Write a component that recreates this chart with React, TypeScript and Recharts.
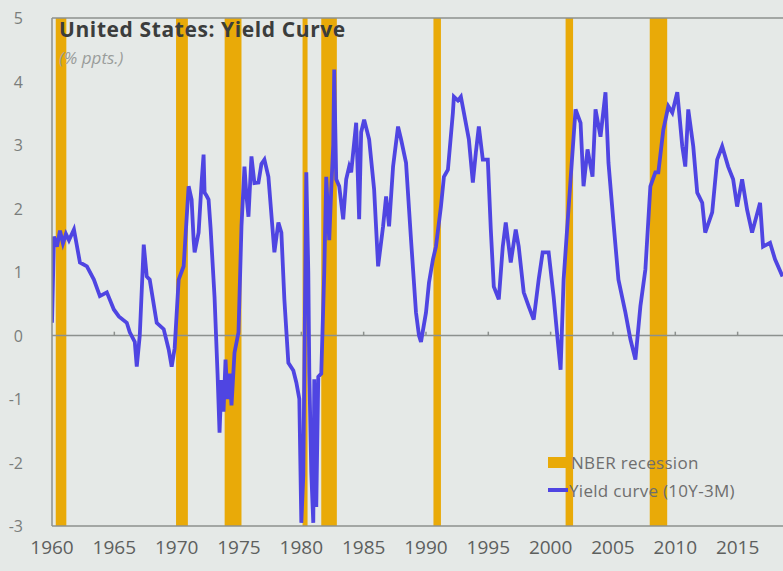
import React from "react";
import {
  ComposedChart,
  Line,
  XAxis,
  YAxis,
  ReferenceArea,
  ReferenceLine,
} from "recharts";

// NBER recessions (start, end in decimal years)
const recessionStarts = [1960.3, 1969.95, 1973.85, 1980.1, 1981.6, 1990.6, 2001.2, 2007.95];
const recessionEnds = [1961.15, 1970.9, 1975.2, 1980.5, 1982.85, 1991.2, 2001.8, 2009.35];

// yield curve 10Y-3M, % ppts
const years = [
  1960.0, 1960.16, 1960.4, 1960.64, 1960.88, 1961.12, 1961.36, 1961.76, 1962.24, 1962.8,
  1963.36, 1963.84, 1964.4, 1964.96, 1965.36, 1966.0, 1966.24, 1966.64, 1966.8, 1967.04,
  1967.36, 1967.6, 1967.84, 1968.4, 1968.96, 1969.36, 1969.6, 1969.84, 1970.16, 1970.56,
  1970.96, 1971.2, 1971.36, 1971.44, 1971.76, 1972.0, 1972.16, 1972.24, 1972.4, 1972.56,
  1972.72, 1973.04, 1973.28, 1973.44, 1973.6, 1973.76, 1973.92, 1974.08, 1974.24, 1974.4,
  1974.64, 1974.96, 1975.2, 1975.44, 1975.6, 1975.76, 1976.0, 1976.24, 1976.56, 1976.8,
  1977.04, 1977.36, 1977.84, 1978.16, 1978.4, 1978.64, 1978.96, 1979.36, 1979.6, 1979.84,
  1980.0, 1980.16, 1980.32, 1980.4, 1980.56, 1980.64, 1980.8, 1980.96, 1981.04, 1981.2,
  1981.36, 1981.6, 1981.84, 1982.0, 1982.24, 1982.4, 1982.56, 1982.64, 1982.8, 1983.04,
  1983.36, 1983.6, 1983.84, 1984.0, 1984.4, 1984.64, 1984.8, 1985.04, 1985.44, 1985.84,
  1986.16, 1986.56, 1986.8, 1987.04, 1987.36, 1987.76, 1988.0, 1988.4, 1988.8, 1989.2,
  1989.44, 1989.6, 1990.0, 1990.24, 1990.56, 1990.8, 1991.2, 1991.44, 1991.76, 1992.16,
  1992.24, 1992.56, 1992.8, 1993.04, 1993.44, 1993.76, 1994.0, 1994.24, 1994.56, 1994.96,
  1995.2, 1995.44, 1995.84, 1996.16, 1996.4, 1996.8, 1997.2, 1997.44, 1997.84, 1998.24,
  1998.64, 1999.04, 1999.36, 1999.84, 2000.24, 2000.56, 2000.8, 2001.04, 2001.36, 2001.6,
  2002.0, 2002.4, 2002.64, 2002.96, 2003.36, 2003.6, 2004.0, 2004.4, 2004.64, 2005.04,
  2005.44, 2006.0, 2006.4, 2006.8, 2007.2, 2007.6, 2008.0, 2008.4, 2008.64, 2009.04,
  2009.44, 2009.76, 2010.16, 2010.56, 2010.8, 2011.04, 2011.44, 2011.76, 2012.16, 2012.4,
  2012.96, 2013.36, 2013.76, 2014.24, 2014.64, 2014.96, 2015.36, 2015.76, 2016.16, 2016.8,
  2017.04, 2017.6, 2018.0, 2018.6,
];
const spread = [
  0.2, 1.56, 1.4, 1.65, 1.45, 1.6, 1.5, 1.67, 1.15, 1.09,
  0.88, 0.62, 0.68, 0.41, 0.3, 0.2, 0.05, -0.1, -0.49, 0.0,
  1.43, 0.93, 0.88, 0.2, 0.1, -0.22, -0.49, -0.2, 0.88, 1.09,
  2.35, 2.14, 1.51, 1.31, 1.62, 2.41, 2.85, 2.25, 2.2, 2.14,
  1.7, 0.6, -0.6, -1.53, -0.7, -1.2, -0.38, -1.0, -0.6, -1.1,
  -0.27, 0.05, 1.72, 2.66, 2.2, 1.87, 2.82, 2.4, 2.41, 2.7,
  2.77, 2.5, 1.31, 1.78, 1.62, 0.57, -0.43, -0.55, -0.74, -1.0,
  -2.95, -2.2, 1.0, 2.57, 0.99, -0.58, -2.16, -2.95, -0.69, -2.7,
  -0.65, -0.6, 1.0, 2.5, 1.5, 2.3, 3.0, 4.19, 2.46, 2.35,
  1.83, 2.46, 2.66, 2.57, 3.35, 1.83, 3.2, 3.4, 3.09, 2.3,
  1.09, 1.72, 2.19, 1.72, 2.66, 3.29, 3.09, 2.72, 1.51, 0.36,
  0.0, -0.1, 0.36, 0.83, 1.2, 1.4, 2.03, 2.5, 2.61, 3.51,
  3.76, 3.7, 3.76, 3.51, 3.09, 2.41, 2.88, 3.29, 2.77, 2.77,
  1.67, 0.77, 0.57, 1.4, 1.78, 1.15, 1.67, 1.4, 0.68, 0.46,
  0.25, 0.88, 1.31, 1.31, 0.61, -0.06, -0.54, 0.88, 1.78, 2.46,
  3.56, 3.35, 2.35, 2.93, 2.5, 3.56, 3.13, 3.83, 2.72, 1.78,
  0.88, 0.36, -0.06, -0.38, 0.46, 1.04, 2.35, 2.57, 2.57, 3.24,
  3.61, 3.51, 3.83, 2.98, 2.66, 3.56, 2.98, 2.25, 2.09, 1.62,
  1.94, 2.77, 2.98, 2.66, 2.46, 2.03, 2.46, 1.98, 1.62, 2.09,
  1.4, 1.46, 1.2, 0.93,
];

const xTicks = [1960, 1965, 1970, 1975, 1980, 1985, 1990, 1995, 2000, 2005, 2010, 2015];
const yTicks = [-3, -2, -1, 0, 1, 2, 3, 4, 5];

const data = years.map((year, i) => ({ year, spread: spread[i] }));

const BAND = "#e9aa08";
const LINE = "#4f45e2";
const AXIS = "#8c918e";

function YTick(props: any) {
  const { y, payload } = props;
  return (
    <text x={23} y={y} dy={6} textAnchor="end" fill="#7a7d7b" fontSize={16} fontFamily="Open Sans">
      {payload.value}
    </text>
  );
}

function LegendBox() {
  const row = { display: "flex", alignItems: "center", height: 28, whiteSpace: "nowrap" } as const;
  return (
    <div
      style={{
        position: "absolute",
        left: 548,
        top: 448,
        fontFamily: "Open Sans",
        fontSize: 17,
        letterSpacing: 0.3,
        color: "#6e6e6e",
      }}
    >
      <div style={row}>
        <span style={{ display: "inline-block", width: 18, height: 11, background: BAND, marginRight: 5 }} />
        NBER recession
      </div>
      <div style={row}>
        <span style={{ display: "inline-block", width: 20, height: 4, background: LINE, marginRight: 1 }} />
        Yield curve (10Y-3M)
      </div>
    </div>
  );
}

export default function App() {
  return (
    <div
      style={{
        position: "absolute",
        left: 0,
        top: 0,
        width: 783,
        height: 571,
        background: "#e5e9e7",
        overflow: "hidden",
      }}
    >
      <ComposedChart width={783} height={571} data={data} margin={{ top: 18, right: 0, left: 0, bottom: 0 }}>
        <XAxis
          dataKey="year"
          type="number"
          domain={[1960, 2018.64]}
          ticks={xTicks}
          allowDataOverflow
          height={45}
          axisLine={{ stroke: AXIS, strokeWidth: 1.5 }}
          tickLine={false}
          tick={{ fill: "#5d605e", fontSize: 19, fontFamily: "Open Sans" }}
          tickMargin={9}
        />
        <YAxis
          type="number"
          domain={[-3, 5]}
          ticks={yTicks}
          width={52}
          axisLine={{ stroke: AXIS, strokeWidth: 1.5 }}
          tickLine={false}
          tick={<YTick />}
        />
        {recessionStarts.map((s, i) => (
          <ReferenceArea
            key={s}
            x1={s}
            x2={recessionEnds[i]}
            y1={-3}
            y2={5}
            fill={BAND}
            fillOpacity={1}
            stroke="none"
          />
        ))}
        <ReferenceLine y={5} stroke={AXIS} strokeWidth={1.5} />
        <ReferenceLine y={0} stroke={AXIS} strokeWidth={1.5} />
        {xTicks.slice(1).map((t) => (
          <ReferenceLine
            key={t}
            segment={[
              { x: t, y: 0 },
              { x: t, y: 0.06 },
            ]}
            stroke={AXIS}
            strokeWidth={1.5}
          />
        ))}
        <Line
          type="linear"
          dataKey="spread"
          stroke={LINE}
          strokeWidth={3.8}
          dot={false}
          isAnimationActive={false}
        />
      </ComposedChart>
      <div
        style={{
          position: "absolute",
          left: 59,
          top: 15,
          fontFamily: "Open Sans",
          fontWeight: 700,
          fontSize: 21,
          letterSpacing: 0.6,
          color: "#3b3d3c",
          whiteSpace: "nowrap",
        }}
      >
        United States: Yield Curve
      </div>
      <div
        style={{
          position: "absolute",
          left: 59,
          top: 46,
          fontFamily: "Open Sans",
          fontStyle: "italic",
          fontSize: 17,
          color: "#9a9d9b",
          whiteSpace: "nowrap",
        }}
      >
        (% ppts.)
      </div>
      <LegendBox />
    </div>
  );
}
